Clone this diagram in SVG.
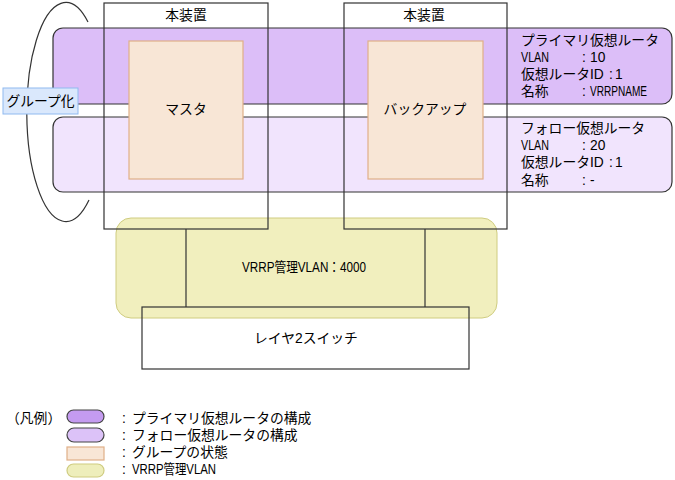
<svg xmlns="http://www.w3.org/2000/svg" width="675" height="480" viewBox="0 0 675 480">
<style>
text{font-family:"Liberation Sans","Noto Sans CJK JP",sans-serif;font-size:13.8px;fill:#000}
.c{text-anchor:middle}
.dev{fill:none;stroke:#333;stroke-width:1.2}
.band{stroke:#333;stroke-width:1.2}
.state{fill:#f8e6d6;stroke:#e0b088;stroke-width:1.2}
.ln{stroke:#333;stroke-width:1.2;fill:none}
</style>
<rect width="675" height="480" fill="#fff"/>
<g id="vrrp-vlan">
<rect x="116" y="218" width="381" height="100" rx="15" fill="#f1efbe" stroke="#cfcc80" stroke-width="1"/>
<text x="242" y="272" textLength="124" lengthAdjust="spacingAndGlyphs">VRRP管理VLAN：4000</text>
</g>
<g id="primary-band">
<rect class="band" x="53" y="28" width="619" height="76" rx="10" fill="#dcbef8"/>
<text><tspan x="521" y="45">プライマリ仮想ルータ</tspan><tspan x="521" y="62" textLength="28" lengthAdjust="spacingAndGlyphs">VLAN</tspan><tspan x="582" y="62">:</tspan><tspan x="590" y="62">10</tspan><tspan x="521" y="79">仮想ルータID</tspan><tspan x="609" y="79">:</tspan><tspan x="615" y="79">1</tspan><tspan x="521" y="96">名称</tspan><tspan x="582" y="96">:</tspan><tspan x="590" y="96" textLength="57" lengthAdjust="spacingAndGlyphs">VRRPNAME</tspan></text>
</g>
<g id="follow-band">
<rect class="band" x="53" y="117" width="619" height="75" rx="10" fill="#f1e4fd"/>
<text><tspan x="521" y="133">フォロー仮想ルータ</tspan><tspan x="521" y="150" textLength="28" lengthAdjust="spacingAndGlyphs">VLAN</tspan><tspan x="582" y="150">:</tspan><tspan x="590" y="150">20</tspan><tspan x="521" y="167">仮想ルータID</tspan><tspan x="609" y="167">:</tspan><tspan x="615" y="167">1</tspan><tspan x="521" y="185">名称</tspan><tspan x="582" y="185">:</tspan><tspan x="590" y="185">-</tspan></text>
</g>
<g id="device-left">
<rect class="dev" x="104" y="3" width="164" height="226"/>
<text class="c" x="186" y="20">本装置</text>
</g>
<g id="device-right">
<rect class="dev" x="344" y="3" width="163" height="226"/>
<text class="c" x="424" y="20">本装置</text>
</g>
<g id="master">
<rect class="state" x="129" y="41" width="114" height="138"/>
<text class="c" x="186" y="114">マスタ</text>
</g>
<g id="backup">
<rect class="state" x="368" y="41" width="115" height="138"/>
<text class="c" x="425" y="114">バックアップ</text>
</g>
<g id="grouping">
<path class="ln" d="M88 22 A39 109.5 0 1 0 89 200"/>
<rect x="3" y="88" width="75" height="26" fill="#dae8fc" stroke="#90baf0" stroke-width="1"/>
<text class="c" x="40.5" y="106">グループ化</text>
</g>
<g id="l2switch">
<rect class="dev" x="142" y="307" width="327" height="62"/>
<text class="c" x="306" y="343">レイヤ2スイッチ</text>
</g>
<g id="connectors">
<line class="ln" x1="186" y1="229" x2="186" y2="307"/>
<line class="ln" x1="425" y1="229" x2="425" y2="307"/>
</g>
<g id="legend">
<text x="6" y="423">（凡例）</text>
<rect x="67" y="410" width="37" height="13" rx="6.5" fill="#c49bf0" stroke="#444" stroke-width="1.2"/>
<rect x="67" y="428" width="37" height="14" rx="7" fill="#dcc2f8" stroke="#444" stroke-width="1.2"/>
<rect x="67" y="447" width="37" height="13" fill="#f8e6d6" stroke="#e0b088" stroke-width="1.2"/>
<rect x="67" y="464" width="37" height="13" rx="6.5" fill="#eeeebb" stroke="#cfcc80" stroke-width="1.2"/>
<text><tspan x="122" y="423">:</tspan><tspan x="132" y="423">プライマリ仮想ルータの構成</tspan><tspan x="122" y="440">:</tspan><tspan x="132" y="440">フォロー仮想ルータの構成</tspan><tspan x="122" y="457">:</tspan><tspan x="132" y="457">グループの状態</tspan><tspan x="122" y="474">:</tspan><tspan x="132" y="474" textLength="84" lengthAdjust="spacingAndGlyphs">VRRP管理VLAN</tspan></text>
</g>
</svg>
